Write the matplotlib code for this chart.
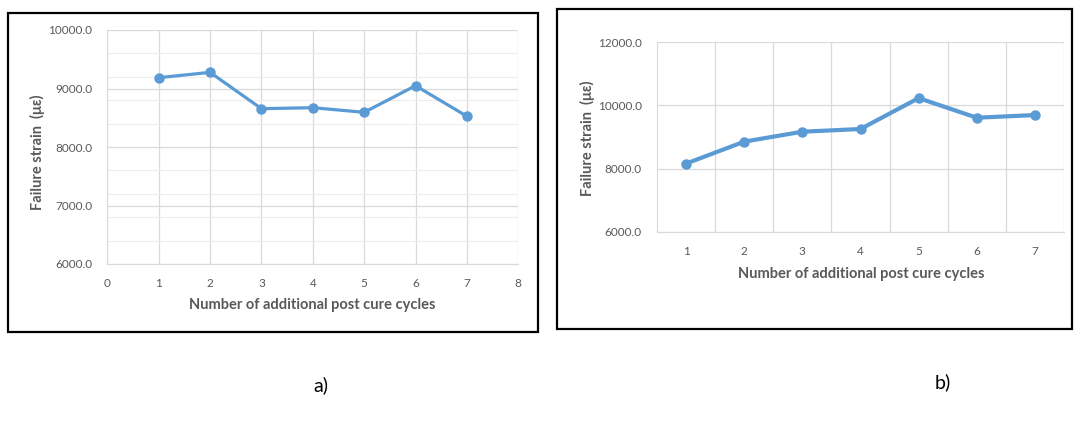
import matplotlib
matplotlib.use("Agg")
import matplotlib.pyplot as plt
from matplotlib.patches import Rectangle
from matplotlib.ticker import FixedLocator

# ---- data ----
cycles_a = [1, 2, 3, 4, 5, 6, 7]
strain_a = [9185, 9276, 8655, 8672, 8593, 9048, 8525]

cycles_b = ["1", "2", "3", "4", "5", "6", "7"]
strain_b = [8158, 8853, 9168, 9253, 10232, 9611, 9695]

xlabel = "Number of additional post cure cycles"
ylabel = "Failure strain  (\u03bc\u03b5)"

W, H = 1077, 421
fig = plt.figure(figsize=(W / 100, H / 100), dpi=100)
plt.rcParams['font.family'] = ['Lato', 'DejaVu Sans']

LINE = "#5B9BD5"
GRID = "#D9D9D9"
TXT = "#595959"

def fr(x0, y0, x1, y1):
    return [x0 / W, 1 - y1 / H, (x1 - x0) / W, (y1 - y0) / H]

def style(ax):
    for s in ax.spines.values():
        s.set_visible(False)
    ax.spines['bottom'].set_visible(True)
    ax.spines['bottom'].set_color(GRID)
    ax.spines['left'].set_visible(True)
    ax.spines['left'].set_color(GRID)
    ax.tick_params(axis='both', which='both', length=0, colors=TXT, labelsize=8.5)
    ax.tick_params(axis='y', pad=11)
    ax.tick_params(axis='x', pad=10)
    ax.set_axisbelow(True)

# ---- panel a ----
axa = fig.add_axes(fr(107.3, 30, 518.3, 264))
axa.plot(cycles_a, strain_a, color=LINE, lw=2.3, marker='o', ms=6.5, zorder=3)
axa.set_xlim(0, 8)
axa.set_ylim(6000, 10000)
axa.set_xticks(range(0, 9))
axa.set_yticks([6000, 7000, 8000, 9000, 10000])
axa.set_yticklabels([f"{v:.1f}" for v in [6000, 7000, 8000, 9000, 10000]])
axa.yaxis.set_minor_locator(FixedLocator([v for v in range(6000, 10001, 400) if v % 1000]))
style(axa)
axa.grid(True, which='major', color=GRID, lw=0.9)
axa.grid(True, which='minor', axis='y', color="#EDEDED", lw=0.8)
axa.set_xlabel(xlabel, fontsize=10.5, fontweight='bold', color=TXT, va='center')
axa.xaxis.set_label_coords(0.499, -0.175)
axa.set_ylabel(ylabel, fontsize=10.5, fontweight='bold', color=TXT, va='center')
axa.yaxis.set_label_coords(-0.169, 0.479)

# ---- panel b ----
axb = fig.add_axes(fr(657, 42.3, 1064, 231.7))
xb = list(range(len(cycles_b)))
axb.plot(xb, strain_b, color=LINE, lw=3, marker='o', ms=6.5, zorder=3)
axb.set_xlim(-0.5, len(cycles_b) - 0.5)
axb.set_ylim(6000, 12000)
axb.set_xticks(xb)
axb.set_xticklabels(cycles_b)
axb.set_yticks([6000, 8000, 10000, 12000])
axb.set_yticklabels([f"{v:.1f}" for v in [6000, 8000, 10000, 12000]])
axb.xaxis.set_minor_locator(FixedLocator([i + 0.5 for i in xb]))
style(axb)
axb.grid(True, which='major', axis='y', color=GRID, lw=0.9)
axb.grid(True, which='minor', axis='x', color=GRID, lw=0.9)
axb.set_xlabel(xlabel, fontsize=10.5, fontweight='bold', color=TXT, va='center')
axb.xaxis.set_label_coords(0.501, -0.223)
axb.set_ylabel(ylabel, fontsize=10.5, fontweight='bold', color=TXT, va='center')
axb.yaxis.set_label_coords(-0.170, 0.495)

# ---- frames ----
for (x0, y0, x1, y1) in [(8, 13, 538, 332), (557, 9, 1072, 329)]:
    b = fr(x0, y0, x1, y1)
    fig.add_artist(Rectangle((b[0], b[1]), b[2], b[3], transform=fig.transFigure,
                             fill=False, edgecolor='black', lw=1.6))

fig.text(321 / W, 1 - 385 / H, "a)", fontsize=14, ha='center', va='center', color='black')
fig.text(943 / W, 1 - 382 / H, "b)", fontsize=14, ha='center', va='center', color='black')

fig.savefig("out.png", dpi=100, facecolor='white')
